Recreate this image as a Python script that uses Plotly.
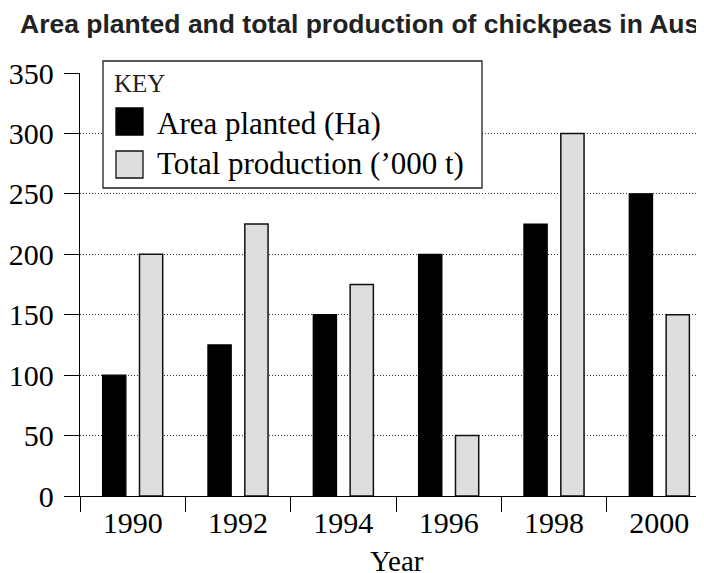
import plotly.graph_objects as go

# ---- data ----
years = ["1990", "1992", "1994", "1996", "1998", "2000"]
area_planted = [100, 125, 150, 200, 225, 250]
total_production = [200, 225, 175, 50, 300, 150]
series_names = ["Area planted (Ha)", "Total production (\u2019000 t)"]
y_ticks = [0, 50, 100, 150, 200, 250, 300, 350]

# page offset (body margin) -> figure coordinates
OFF = 8
W, H = 704, 573
ML, MR, MT, MB = 72, 0, 65, 85
PW, PH = W - ML - MR, H - MT - MB


def px_x(p):
    # p: page pixel in the reference
    return (p - OFF - ML) / PW


def px_y(p):
    return (H - MB - (p - OFF)) / PH


serif = "Liberation Serif, Times New Roman, serif"

fig = go.Figure()
fig.add_trace(go.Bar(
    x=years, y=area_planted, name=series_names[0],
    marker=dict(color="#000000", line=dict(color="#000000", width=1.3)),
    showlegend=False,
))
fig.add_trace(go.Bar(
    x=years, y=total_production, name=series_names[1],
    marker=dict(color="#dedede", line=dict(color="#111111", width=1.5)),
    showlegend=False,
))

# custom KEY box (legend)
shapes = [
    dict(type="rect", xref="paper", yref="paper",
         x0=px_x(103), x1=px_x(482), y0=px_y(188), y1=px_y(61),
         line=dict(color="#222222", width=1.3), fillcolor="white", layer="above"),
    dict(type="rect", xref="paper", yref="paper",
         x0=px_x(116), x1=px_x(143), y0=px_y(135), y1=px_y(108),
         line=dict(color="#000000", width=1.3), fillcolor="#000000", layer="above"),
    dict(type="rect", xref="paper", yref="paper",
         x0=px_x(116), x1=px_x(143), y0=px_y(178), y1=px_y(151),
         line=dict(color="#111111", width=1.3), fillcolor="#dedede", layer="above"),
]
annotations = [
    dict(text="KEY", xref="paper", yref="paper", x=px_x(112), y=px_y(83),
         xanchor="left", yanchor="middle", showarrow=False,
         font=dict(family=serif, size=25, color="#222222")),
    dict(text=series_names[0], xref="paper", yref="paper", x=px_x(155), y=px_y(124),
         xanchor="left", yanchor="middle", showarrow=False,
         font=dict(family=serif, size=31, color="#000000")),
    dict(text=series_names[1], xref="paper", yref="paper", x=px_x(155), y=px_y(163),
         xanchor="left", yanchor="middle", showarrow=False,
         font=dict(family=serif, size=31, color="#000000")),
    dict(text="Year", xref="paper", yref="paper", x=px_x(397), y=px_y(561),
         xanchor="center", yanchor="middle", showarrow=False,
         font=dict(family=serif, size=29, color="#000000")),
]

fig.update_layout(
    width=W, height=H,
    margin=dict(l=ML, r=MR, t=MT, b=MB, pad=0),
    paper_bgcolor="white", plot_bgcolor="white",
    barmode="group", bargap=0.30, bargroupgap=0.37,
    title=dict(
        text="<b>Area planted and total production of chickpeas in Australia</b>",
        x=(20 - OFF) / W, xanchor="left", xref="container",
        y=1 - (24 - OFF) / H, yanchor="middle", yref="container",
        font=dict(family="Liberation Sans, Arial, sans-serif", size=26.5, color="#222222"),
    ),
    shapes=shapes,
    annotations=annotations,
    showlegend=False,
)
fig.update_xaxes(
    type="category", range=[-0.5, 5.5],
    showline=True, linecolor="#000000", linewidth=1.3,
    ticks="outside", tickson="boundaries", ticklen=15, tickwidth=1.3, tickcolor="#000000",
    showgrid=False, zeroline=False,
    tickfont=dict(family=serif, size=30, color="#000000"),
)
fig.update_yaxes(
    range=[0, 350], tickvals=y_ticks,
    showline=True, linecolor="#000000", linewidth=1.3,
    ticks="outside", ticklen=15, tickwidth=1.3, tickcolor="#000000",
    ticklabelstandoff=4,
    showgrid=True, gridcolor="#333333", gridwidth=1, griddash="1px,2px",
    zeroline=False,
    tickfont=dict(family=serif, size=30, color="#000000"),
)

fig.write_html("out.html")
